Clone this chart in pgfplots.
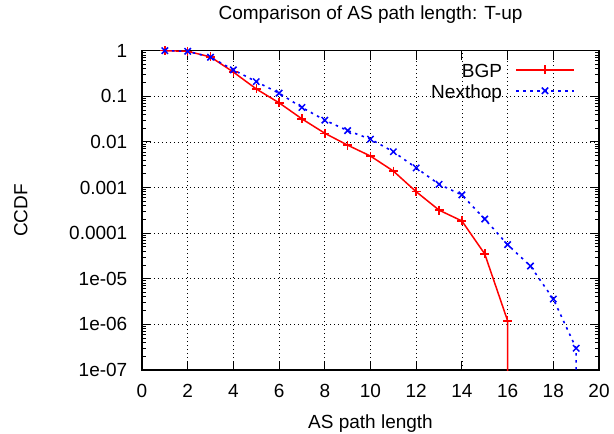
\documentclass[border=0pt]{standalone}
\usepackage{fontspec}
\setmainfont{Liberation Sans}
\usepackage{pgfplots}
\pgfplotsset{compat=1.18}
\begin{document}
\fontsize{19bp}{23bp}\selectfont
\begin{tikzpicture}
\useasboundingbox (-142bp,-64bp) rectangle (472bp,370bp);
\begin{axis}[
  scale only axis,
  width=457bp, height=319.3bp,
  at={(0,0)}, anchor=south west,
  ymode=log,
  xmin=0, xmax=20, ymin=1e-7, ymax=1,
  xtick={0,2,...,20},
  ytick={1e-7,1e-6,1e-5,1e-4,1e-3,1e-2,1e-1,1},
  yticklabels={1e-07,1e-06,1e-05,0.0001,0.001,0.01,0.1,1},
  /pgf/number format/assume math mode=true,
  tick align=inside,
  major tick length=9bp, minor tick length=4.5bp,
  every tick/.style={black, line width=1bp},
  axis line style={line width=1.5bp, black},
  grid=major,
  major grid style={black, line width=0.8bp, dash pattern=on 1bp off 3bp},
  xticklabel style={anchor=base, yshift=-27bp, inner sep=0pt},
  yticklabel style={anchor=east, xshift=-14.5bp, inner sep=0pt},
  title={Comparison of AS path length: T-up},
  title style={at={([yshift=25.7bp]axis description cs:0.5,1)}, anchor=base, inner sep=0pt},
  xlabel={AS path length},
  xlabel style={at={([yshift=-58bp]axis description cs:0.5,0)}, anchor=base, inner sep=0pt},
  ylabel={CCDF},
  ylabel style={at={([xshift=-114.7bp]axis description cs:0,0.5)}, anchor=base, rotate=0, inner sep=0pt},
  legend plot pos=right,
  legend cell align=right,
  legend image code/.code={\path[draw=none, fill=none, use as bounding box] (0bp,0bp) rectangle (58bp,13.6bp);
    \draw[#1, mark indices={2}] plot coordinates {(0bp,3.3bp) (29bp,3.3bp) (58bp,3.3bp)};},
  legend style={draw=none, fill=none, inner sep=0pt, outer sep=0pt,
    at={(axis description cs:0.9453,0.9724)}, anchor=north east,
    row sep=-2.2bp,
    nodes={inner sep=0pt, text height=14bp, text depth=5bp},
    /tikz/every odd column/.append style={column sep=14bp}},
]
\addplot[red, line width=1.5bp, mark=+, mark size=4.5bp, mark indices={1,...,16}, mark options={solid, line width=1.5bp}] coordinates {
(1,1) (2,0.97) (3,0.73) (4,0.34) (5,0.145) (6,0.072) (7,0.032) (8,0.0155)
(9,0.0085) (10,0.0049) (11,0.0023) (12,0.00081) (13,0.00032) (14,0.000185)
(15,3.5e-5) (16,1.2e-6) (16,1e-12)
};
\addlegendentry{BGP}
\addplot[blue, line width=1.6bp, dash pattern=on 2.5bp off 4.5bp, mark=x, mark size=4.5bp, mark indices={1,...,19}, mark options={solid, line width=1.5bp}] coordinates {
(1,1) (2,0.97) (3,0.72) (4,0.38) (5,0.21) (6,0.117) (7,0.057) (8,0.030)
(9,0.0177) (10,0.0115) (11,0.0061) (12,0.0027) (13,0.00118) (14,0.00069)
(15,0.000204) (16,5.6e-5) (17,1.9e-5) (18,3.6e-6) (19,3.0e-7) (19,1e-12)
};
\addlegendentry{Nexthop}
\end{axis}
\end{tikzpicture}
\end{document}
